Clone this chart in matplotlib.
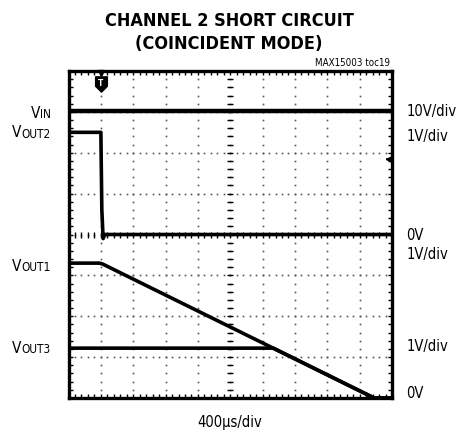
import matplotlib
matplotlib.use('Agg')
import matplotlib.pyplot as plt
import numpy as np
from matplotlib.path import Path
from matplotlib import font_manager

# scope screen: 10 horizontal divisions (400us/div), 8 vertical divisions
vin_t = [0, 10]
vin_y = [7.02, 7.02]

vout2_t = [0, 1.0, 1.03, 1.07, 1.12, 10]
vout2_y = [6.5, 6.5, 4.6, 3.9, 4.0, 4.0]

vout1_t = [0, 0.95, 1.05, 9.45, 10]
vout1_y = [3.30, 3.30, 3.28, 0.0, 0.0]

vout3_t = [0, 6.33, 9.45, 10]
vout3_y = [1.22, 1.22, 0.0, 0.0]

left_subs = ['IN', 'OUT2', 'OUT1', 'OUT3']
left_label_y = [6.97, 6.49, 3.23, 1.22]
right_labels = ['10V/div', '1V/div', '0V', '1V/div', '1V/div', '0V']
right_label_y = [7.02, 6.4, 3.98, 3.5, 1.25, 0.12]

trigger_t = 1.0
level_marker_y = 5.84

# prefer a condensed face if one is installed, else Liberation Sans
cond = font_manager.findfont(
    font_manager.FontProperties(family='DejaVu Sans', stretch='condensed'),
    fallback_to_default=True)
if 'ondensed' in cond:
    FAM, STRETCH = 'DejaVu Sans', 'condensed'
else:
    FAM, STRETCH = 'Liberation Sans', 'normal'

plt.rcParams['font.family'] = [FAM, 'DejaVu Sans']
plt.rcParams['font.stretch'] = STRETCH

fig = plt.figure(figsize=(4.58, 4.33), dpi=100)
ax = fig.add_axes([0.1496, 0.0808, 0.7063, 0.7552])
ax.set_xlim(0, 10)
ax.set_ylim(0, 8)

# dotted graticule, dots every 0.2 div
dot_color = '#555555'
ys = np.arange(0, 8.01, 0.2)
xs = np.arange(0, 10.01, 0.2)
for gx in range(1, 10):
    ax.plot(np.full_like(ys, gx), ys, ls='none', marker='s', ms=1.2,
            mec='none', mfc=dot_color, zorder=1)
for gy in range(1, 8):
    ax.plot(xs, np.full_like(xs, gy), ls='none', marker='s', ms=1.2,
            mec='none', mfc=dot_color, zorder=1)
# centre cross with small ticks
ax.plot(np.full_like(ys, 5), ys, ls='none', marker='_', ms=4, mew=1.0,
        color='black', zorder=1)
ax.plot(xs, np.full_like(xs, 4), ls='none', marker='|', ms=4, mew=1.0,
        color='black', zorder=1)

# traces
trace = dict(color='black', lw=2.6, solid_capstyle='butt', zorder=3)
ax.plot(vin_t, vin_y, **dict(trace, lw=3.2))
ax.plot(vout2_t, vout2_y, **trace)
ax.plot(vout1_t, vout1_y, **trace)
ax.plot(vout3_t, vout3_y, **trace)

# trigger marker
shield = Path([(-0.5, 0.65), (0.5, 0.65), (0.5, -0.15), (0, -0.65),
               (-0.5, -0.15), (-0.5, 0.65)],
              [Path.MOVETO] + [Path.LINETO] * 4 + [Path.CLOSEPOLY])
ax.plot([trigger_t], [7.68], marker=shield, ms=11, color='black',
        clip_on=False, zorder=5)
ax.text(trigger_t, 7.70, 'T', color='white', fontsize=6, fontweight='bold',
        ha='center', va='center', family='DejaVu Sans', zorder=6)
ax.plot([trigger_t], [7.95], marker='v', ms=4, color='black',
        clip_on=False, zorder=5)

# level marker on right edge
ax.plot([9.84, 10], [level_marker_y] * 2, color='black', lw=1.2, zorder=5)
ax.plot([9.9], [level_marker_y], marker='<', ms=5, color='black', zorder=5)

# frame and border ticks
for sp in ax.spines.values():
    sp.set_linewidth(2.4)
ax.set_xticks(range(0, 11))
ax.set_yticks(range(0, 9))
ax.set_xticks(xs, minor=True)
ax.set_yticks(ys, minor=True)
ax.tick_params(which='both', direction='in', top=True, right=True,
               labelbottom=False, labelleft=False, length=3, width=1.0)

# channel names: "V" plus a large subscript, right aligned
for sub, y in zip(left_subs, left_label_y):
    s = ax.text(-0.55, y - 0.04, sub, ha='right', va='center', fontsize=8.5,
                clip_on=False)
    ax.annotate('V', xy=(0, 0.62), xycoords=s, ha='right', va='center',
                fontsize=11, annotation_clip=False)
for lab, y in zip(right_labels, right_label_y):
    ax.text(10.45, y, lab, ha='left', va='center', fontsize=10.5,
            clip_on=False)

fig.text(0.5, 1 - 21 / 433, 'CHANNEL 2 SHORT CIRCUIT', ha='center',
         va='center', fontsize=13, fontweight='heavy')
fig.text(0.5, 1 - 44 / 433, '(COINCIDENT MODE)', ha='center',
         va='center', fontsize=13, fontweight='heavy')
fig.text(390 / 458, 1 - 63 / 433, 'MAX15003 toc19', ha='right',
         va='center', fontsize=7)
fig.text(230 / 458, 1 - 422 / 433, '400\u00b5s/div', ha='center',
         va='center', fontsize=10.5)

fig.savefig('out.png', dpi=100)
